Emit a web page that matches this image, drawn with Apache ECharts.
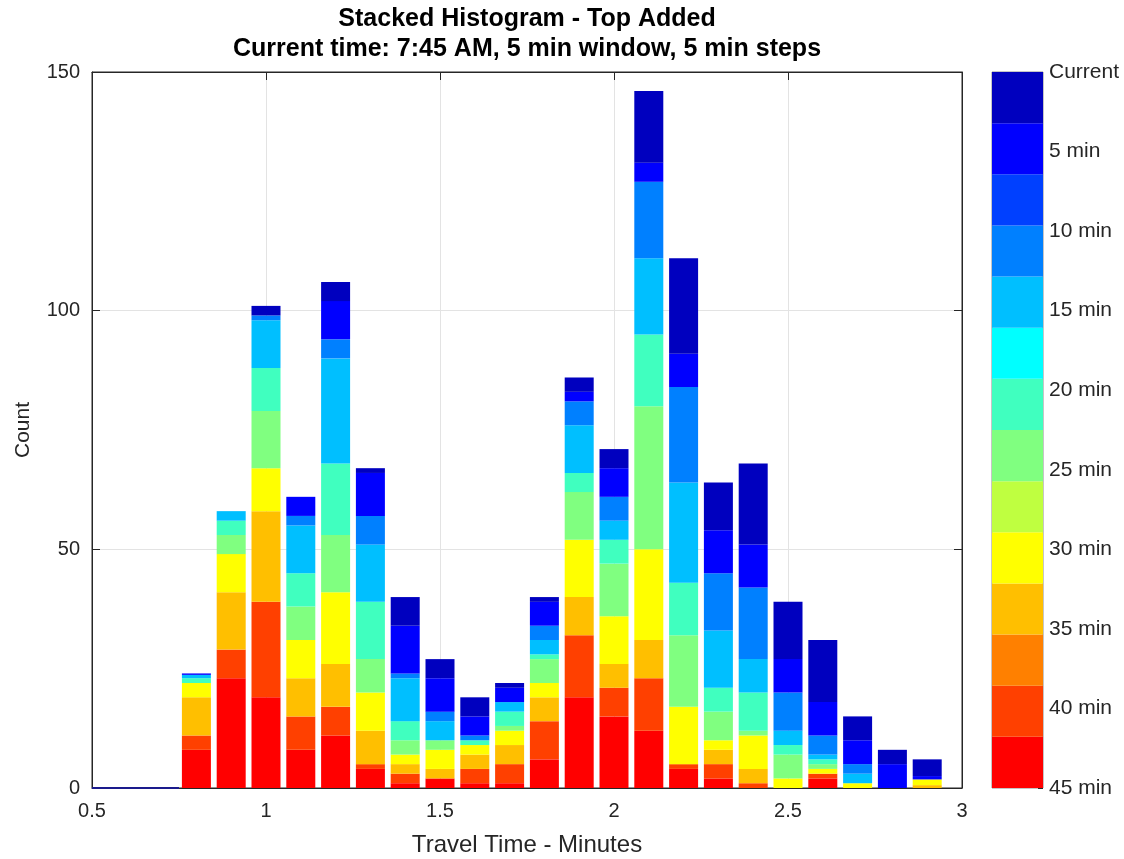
<!DOCTYPE html>
<html>
<head>
<meta charset="utf-8">
<title>Stacked Histogram - Top Added</title>
<script src="https://cdn.jsdelivr.net/npm/echarts@6/dist/echarts.min.js"></script>
<style>
  html, body { margin: 0; padding: 0; background: #ffffff; }
  #chart { width: 1124px; height: 859px; }
</style>
</head>
<body>
<div id="chart"></div>
<script>
// Slots of 0.1 min along the travel-time axis (0.5 … 3.0); bars sit on these
const axisSlots = ['0.5', '0.6', '0.7', '0.8', '0.9', '1.0', '1.1', '1.2', '1.3', '1.4', '1.5', '1.6', '1.7',
                   '1.8', '1.9', '2.0', '2.1', '2.2', '2.3', '2.4', '2.5', '2.6', '2.7', '2.8', '2.9', '3.0'];
// Bin centres of the travel-time histogram (minutes)
const binCenters = ['0.8', '0.9', '1.0', '1.1', '1.2', '1.3', '1.4', '1.5', '1.6', '1.7', '1.8', '1.9',
                    '2.0', '2.1', '2.2', '2.3', '2.4', '2.5', '2.6', '2.7', '2.8', '2.9'];
// Empty bins drawn as a flat line along the baseline
const emptyRange = [0.5, 0.75];

// Counts per bin, one array per time slice (oldest at the bottom of each stack)
const min45 = [8, 23, 19, 8, 11, 4, 1, 2, 1, 1, 6, 19, 15, 12, 4, 2, 0, 0, 2, 0, 0, 0];
const min40 = [3, 6, 20, 7, 6, 1, 2, 0, 3, 4, 8, 13, 6, 11, 1, 3, 1, 0, 1, 0, 0, 0];
const min35 = [8, 12, 19, 8, 9, 7, 2, 2, 3, 4, 5, 8, 5, 8, 0, 3, 3, 0, 0, 0, 0, 0.6];
const min30 = [3, 8, 9, 8, 15, 8, 2, 4, 2, 3, 3, 12, 10, 19, 12, 2, 7, 2, 1, 1, 0, 1.2];
const min25 = [0, 4, 12, 7, 12, 7, 3, 2, 0, 1, 5, 10, 11, 30, 15, 6, 1, 5, 1, 0, 0, 0];
const min20 = [1, 3, 9, 7, 15, 12, 4, 0, 1, 3, 1, 4, 5, 15, 11, 5, 8, 2, 1, 0, 0, 0];
const min15 = [0.7, 2, 10, 10, 22, 12, 9, 4, 0, 2, 3, 10, 4, 16, 21, 12, 7, 3, 1, 2, 0, 0];
const min10 = [0, 0, 1, 2, 4, 6, 1, 2, 1, 0, 3, 5, 5, 16, 20, 12, 15, 8, 4, 2, 0, 0];
const min5  = [0.3, 0, 0, 4, 8, 9, 10, 7, 4, 3, 5, 2, 6, 4, 7, 9, 9, 7, 7, 5, 5, 0.7];
const current = [0, 0, 2, 0, 4, 1, 6, 4, 4, 1, 1, 3, 4, 15, 20, 10, 17, 12, 13, 5, 3, 3.5];

const sliceNames = ['45 min', '40 min', '35 min', '30 min', '25 min', '20 min', '15 min', '10 min', '5 min', 'Current'];
const sliceData = [min45, min40, min35, min30, min25, min20, min15, min10, min5, current];
const sliceColors = ['#FF0000', '#FF4000', '#FFBF00', '#FFFF00', '#80FF80', '#40FFBF', '#00BFFF', '#0080FF', '#0000FF', '#0000BF'];

// Colour bar bands (bottom to top) and its tick labels
const colorbarBands = ['#FF0000', '#FF4000', '#FF8000', '#FFBF00', '#FFFF00', '#BFFF40', '#80FF80', '#40FFBF', '#00FFFF', '#00BFFF', '#0080FF', '#0040FF', '#0000FF', '#0000BF'];
const colorbarLabels = ['45 min', '40 min', '35 min', '30 min', '25 min', '20 min', '15 min', '10 min', '5 min', 'Current'];

// Axis tick values
const xTicks = { min: 0.5, max: 3, interval: 0.5 };
const yTicks = { min: 0, max: 150, interval: 50 };

const FONT = '"Liberation Sans", Arial, Helvetica, sans-serif';
const INK = '#262626';

const chart = echarts.init(document.getElementById('chart'), null, { renderer: 'canvas' });

const histogramSeries = sliceData.map((values, i) => ({
  name: sliceNames[i],
  type: 'bar',
  stack: 'hist',
  xAxisIndex: 0,
  yAxisIndex: 0,
  barWidth: 29,
  itemStyle: { color: sliceColors[i] },
  emphasis: { disabled: true },
  data: binCenters.map((x, j) => [x, values[j]])
}));

const tickAxisCommon = {
  axisLine: { show: true, onZero: false, lineStyle: { color: INK } },
  axisTick: { show: true, inside: true, length: 8, lineStyle: { color: INK } }
};

const option = {
  backgroundColor: '#ffffff',
  animation: false,
  textStyle: { fontFamily: FONT, color: INK },
  title: {
    text: 'Stacked Histogram - Top Added\nCurrent time: 7:45 AM, 5 min window, 5 min steps',
    left: 527,
    top: 4,
    padding: 0,
    textAlign: 'center',
    textStyle: { fontFamily: FONT, fontSize: 25, fontWeight: 'bold', color: '#000000', lineHeight: 30 }
  },
  grid: [
    { left: 92, top: 72, width: 870, height: 716, show: true, borderColor: INK, borderWidth: 1,
      containLabel: false, outerBoundsMode: 'none' },
    { left: 992, top: 72, width: 51, height: 716, show: true, borderColor: '#8c8c8c', borderWidth: 1,
      containLabel: false, outerBoundsMode: 'none' }
  ],
  xAxis: [
    // positions the histogram bars
    { gridIndex: 0, type: 'category', position: 'top', data: axisSlots, boundaryGap: false, show: false },
    // visible travel-time scale
    {
      gridIndex: 0, type: 'value', position: 'bottom', min: xTicks.min, max: xTicks.max, interval: xTicks.interval,
      name: 'Travel Time - Minutes', nameLocation: 'middle', nameGap: 45,
      nameTextStyle: { fontFamily: FONT, fontSize: 24, color: INK },
      ...tickAxisCommon,
      axisLabel: { fontFamily: FONT, fontSize: 20, color: INK, margin: 13, showMinLabel: true, showMaxLabel: true },
      splitLine: { show: true, lineStyle: { color: '#e3e3e3' } }
    },
    {
      gridIndex: 0, type: 'value', position: 'top', min: xTicks.min, max: xTicks.max, interval: xTicks.interval,
      ...tickAxisCommon,
      axisLabel: { show: false }, splitLine: { show: false }
    },
    { gridIndex: 1, type: 'value', min: 0, max: 1, show: false }
  ],
  yAxis: [
    {
      gridIndex: 0, type: 'value', position: 'left', min: yTicks.min, max: yTicks.max, interval: yTicks.interval,
      name: 'Count', nameLocation: 'middle', nameGap: 58,
      nameTextStyle: { fontFamily: FONT, fontSize: 21, color: INK },
      ...tickAxisCommon,
      axisLabel: { fontFamily: FONT, fontSize: 20, color: INK, margin: 12, showMinLabel: true, showMaxLabel: true },
      splitLine: { show: true, lineStyle: { color: '#e3e3e3' } }
    },
    {
      gridIndex: 0, type: 'value', position: 'right', min: yTicks.min, max: yTicks.max, interval: yTicks.interval,
      ...tickAxisCommon,
      axisLabel: { show: false }, splitLine: { show: false }
    },
    {
      gridIndex: 1, type: 'category', data: colorbarBands.map((c, i) => 'band' + i), show: false,
      boundaryGap: true
    },
    {
      gridIndex: 1, type: 'value', position: 'right', min: 0, max: colorbarLabels.length - 1, interval: 1,
      axisLine: { show: false },
      axisTick: { show: true, inside: true, length: 5, lineStyle: { color: INK } },
      axisLabel: {
        fontFamily: FONT, fontSize: 21, color: INK, margin: 6, showMinLabel: true, showMaxLabel: true,
        formatter: (v) => colorbarLabels[Math.round(v)]
      },
      splitLine: { show: false }
    }
  ],
  series: [
    ...histogramSeries,
    {
      name: 'empty bins',
      type: 'line',
      xAxisIndex: 1,
      yAxisIndex: 0,
      symbol: 'none',
      lineStyle: { color: '#1a1a8c', width: 2 },
      data: emptyRange.map((x) => [x, 0]),
      z: 5
    },
    {
      name: 'colorbar',
      type: 'bar',
      xAxisIndex: 3,
      yAxisIndex: 2,
      barWidth: '100%',
      barCategoryGap: 0,
      emphasis: { disabled: true },
      data: colorbarBands.map((c) => ({ value: 1, itemStyle: { color: c } }))
    }
  ]
};

chart.setOption(option);
</script>
</body>
</html>
